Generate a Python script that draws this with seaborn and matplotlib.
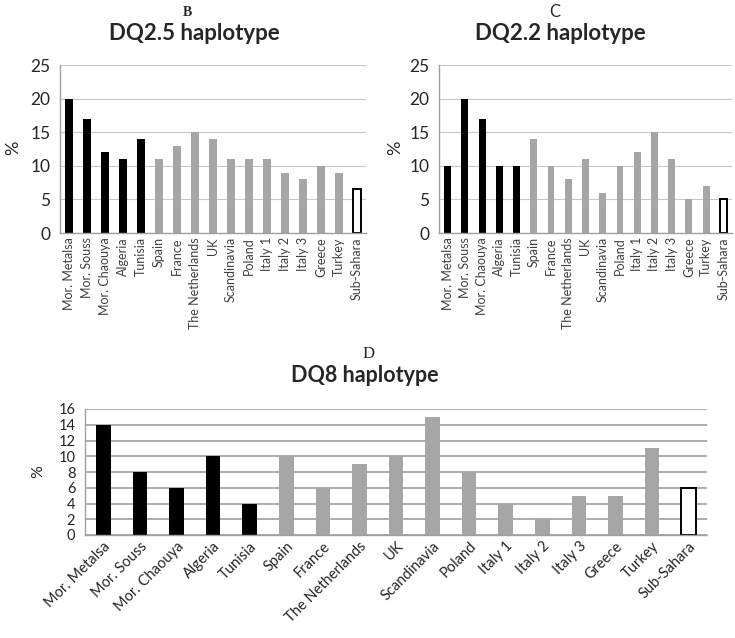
import numpy as np
import pandas as pd
import matplotlib
matplotlib.use("Agg")
import matplotlib.pyplot as plt
import seaborn as sns

sns.set_style("white")
plt.rcParams["font.family"] = ["Lato", "DejaVu Sans"]

# ---- data ----
populations = ["Mor. Metalsa", "Mor. Souss", "Mor. Chaouya", "Algeria", "Tunisia",
               "Spain", "France", "The Netherlands", "UK", "Scandinavia", "Poland",
               "Italy 1", "Italy 2", "Italy 3", "Greece", "Turkey", "Sub-Sahara"]
group = ["north_africa"] * 5 + ["europe"] * 11 + ["sub_sahara"]
dq25 = [20, 17, 12, 11, 14, 11, 13, 15, 14, 11, 11, 11, 9, 8, 10, 9, 6.5]
dq22 = [10, 20, 17, 10, 10, 14, 10, 8, 11, 6, 10, 12, 15, 11, 5, 7, 5]
dq8 = [14, 8, 6, 10, 4, 10, 6, 9, 10, 15, 8, 4, 2, 5, 5, 11, 6]

group_colors = {"north_africa": "#000000", "europe": "#a6a6a6", "sub_sahara": "#ffffff"}
palette = {p: group_colors[g] for p, g in zip(populations, group)}

W, H = 735, 638
fig = plt.figure(figsize=(W / 100, H / 100), dpi=100)


def px_axes(left, right, top, bottom):
    return fig.add_axes([left / W, 1 - bottom / H, (right - left) / W, (bottom - top) / H])


def draw_panel(ax, values, ymax, ystep, grid_color, grid_lw, ytick_size, xtick_size, rot):
    df = pd.DataFrame({"pop": populations, "val": values})
    sns.barplot(data=df, x="pop", y="val", hue="pop", palette=palette, legend=False,
                width=0.4, ax=ax, saturation=1, edgecolor="none")
    for p in ax.patches:
        cx = p.get_x() + p.get_width() / 2
        if abs(cx - (len(populations) - 1)) < 0.3:
            p.set_edgecolor("black")
            p.set_linewidth(1.4)
    ax.set_xlim(-0.5, len(populations) - 0.5)
    ax.set_ylim(0, ymax)
    ax.set_yticks(np.arange(0, ymax + 0.1, ystep))
    ax.yaxis.grid(True, color=grid_color, lw=grid_lw)
    ax.set_axisbelow(True)
    for s in ["top", "right"]:
        ax.spines[s].set_visible(False)
    for s in ["left", "bottom"]:
        ax.spines[s].set_color("#a0a0a0")
        ax.spines[s].set_linewidth(1.0)
    ax.set_xticks(np.arange(-0.5, len(populations), 1), minor=True)
    ax.tick_params(axis="x", which="major", length=0, pad=3)
    ax.tick_params(axis="x", which="minor", length=4, color="#a0a0a0", width=1)
    ax.tick_params(axis="y", length=5, color="#a0a0a0", width=1, labelsize=ytick_size, pad=2)
    if rot == 90:
        ax.set_xticks(range(len(populations)), populations, rotation=90,
                      fontsize=xtick_size, color="#404040")
    else:
        ax.set_xticks(range(len(populations)), populations, rotation=rot, ha="right",
                      rotation_mode="anchor", fontsize=xtick_size)
    ax.set_xlabel("")
    ax.set_ylabel("")


def ylab(x, y, size):
    fig.text(x / W, 1 - y / H, "%", fontsize=size, rotation=90, ha="center", va="center")


# ---- panel B ----
axB = px_axes(60, 366, 65, 233)
draw_panel(axB, dq25, 25, 5, "#c8c8c8", 0.8, 12.5, 9, 90)
ylab(13, 148, 13)
fig.text(187 / W, 1 - 12 / H, "B", family="Liberation Serif", weight="bold", fontsize=10,
         ha="center", va="center")
fig.text(194 / W, 1 - 34 / H, "DQ2.5 haplotype", weight="bold", fontsize=16,
         ha="center", va="center")

# ---- panel C ----
axC = px_axes(439, 732, 65, 233)
draw_panel(axC, dq22, 25, 5, "#c8c8c8", 0.8, 12.5, 9, 90)
ylab(395, 148, 13)
fig.text(555 / W, 1 - 12 / H, "C", fontsize=12, ha="center", va="center")
fig.text(560 / W, 1 - 34 / H, "DQ2.2 haplotype", weight="bold", fontsize=16,
         ha="center", va="center")

# ---- panel D ----
axD = px_axes(85, 707, 409, 535)
draw_panel(axD, dq8, 16, 2, "#a6a6a6", 1.3, 10.5, 10.5, 45)
ylab(38, 472, 11.5)
fig.text(369 / W, 1 - 354 / H, "D", family="Liberation Serif", fontsize=12,
         ha="center", va="center")
fig.text(365 / W, 1 - 376 / H, "DQ8 haplotype", weight="bold", fontsize=15.5,
         ha="center", va="center")

fig.savefig("out.png", dpi=100)
